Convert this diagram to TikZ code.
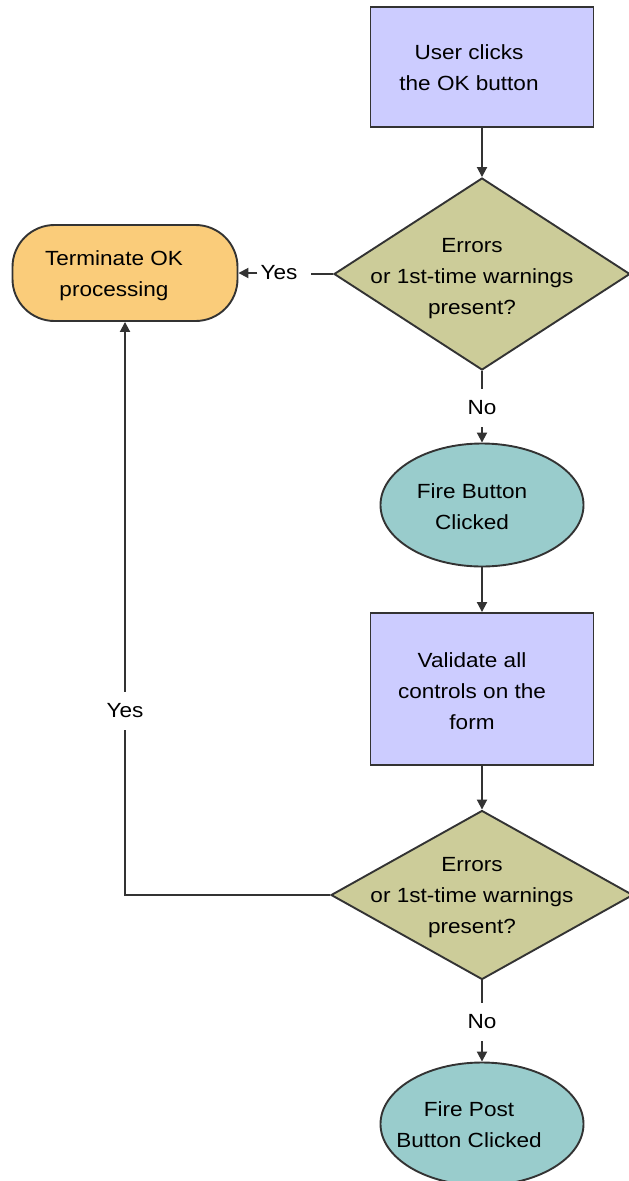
\documentclass[tikz,border=0pt]{standalone}
\usepackage{fontspec}
\setmainfont{Liberation Sans}[FakeStretch=1.1]
\usetikzlibrary{shapes.geometric,arrows.meta}
\definecolor{boxfill}{HTML}{CCCCFF}
\definecolor{decfill}{HTML}{CCCC99}
\definecolor{termfill}{HTML}{FACC7A}
\definecolor{evfill}{HTML}{99CCCC}
\definecolor{edge}{HTML}{333333}
\begin{document}
\begin{tikzpicture}[x=1pt,y=-1pt,
  shp/.style={draw=edge,line width=1.9pt,inner sep=0pt},
  procbox/.style={shp,rectangle,fill=boxfill},
  decision/.style={shp,diamond,fill=decfill,minimum width=296pt,minimum height=192pt},
  termbox/.style={shp,rectangle,rounded corners=42pt,fill=termfill,minimum width=225pt,minimum height=96pt},
  event/.style={shp,ellipse,fill=evfill,minimum width=203pt,minimum height=123pt},
  txt/.style={align=center,font=\fontsize{20.5}{31}\selectfont,inner sep=0pt},
  lbl/.style={font=\fontsize{20.5}{24}\selectfont,inner xsep=3pt,inner ysep=12pt},
  conn/.style={draw=edge,line width=1.9pt},
  arr/.style={conn,-{Triangle[length=10pt,width=10pt]}}
]
\useasboundingbox (0,0) rectangle (629,1181);
\clip (0,0) rectangle (629,1181);
\fill[white] (0,0) rectangle (629,1181);

% shapes
\node[procbox,minimum width=223pt,minimum height=120pt] (b1) at (482,67) {};
\node[decision] (d1) at (482,274) {};
\node[termbox] (term) at (125,273) {};
\node[event] (e1) at (482,505) {};
\node[procbox,minimum width=223pt,minimum height=152pt] (b2) at (482,689) {};
\node[decision,minimum width=302pt,minimum height=169pt] (d2) at (482,895) {};
\node[event] (e2) at (482,1124) {};

% texts
\node[txt] (b1t) at (469,68) {User clicks\\the OK button};
\node[txt] (d1t) at (472,279) {Errors\\or 1st-time warnings\\present?};
\node[txt] (termt) at (114,276) {Terminate OK\\processing};
\node[txt] (e1t) at (472,507) {Fire Button\\Clicked};
\node[txt] (b2t) at (472,691) {Validate all\\controls on the\\form};
\node[txt] (d2t) at (472,898) {Errors\\or 1st-time warnings\\present?};
\node[txt] (e2t) at (469,1125) {Fire Post\\Button Clicked};

% labels
\node[lbl] (yes1) at (279,273) {Yes};
\node[lbl] (no1) at (482,408) {No};
\node[lbl] (yes2) at (125,711) {Yes};
\node[lbl] (no2) at (482,1022) {No};

% connectors
\draw[arr] (b1.south) -- (d1.north);
\draw[conn] (d1.west) -- ([xshift=10pt]d1.west -| yes1.east);
\draw[arr] (yes1.west) -- (term.east);
\draw[conn] (d1.south) -- (no1.north);
\draw[arr] (no1.south) -- (e1.north);
\draw[arr] (e1.south) -- (b2.north);
\draw[arr] (b2.south) -- (d2.north);
\draw[conn] (d2.west) -| (yes2.south);
\draw[arr] (yes2.north) -- (term.south);
\draw[conn] (d2.south) -- (no2.north);
\draw[arr] (no2.south) -- (e2.north);
\end{tikzpicture}
\end{document}
